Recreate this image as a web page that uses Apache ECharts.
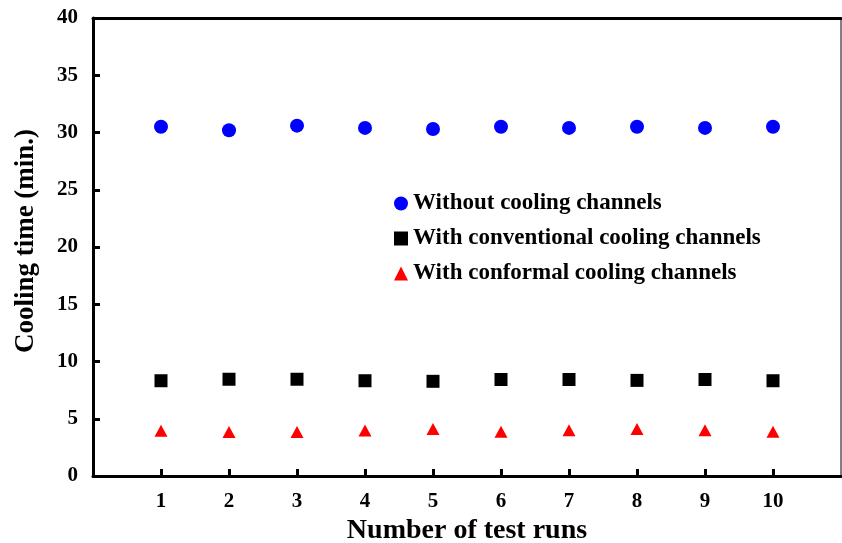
<!DOCTYPE html>
<html><head><meta charset="utf-8">
<script src="https://cdn.jsdelivr.net/npm/echarts@6/dist/echarts.min.js"></script>
<style>html,body{margin:0;padding:0;background:#fff}#c{width:842px;height:543px}</style>
</head><body><div id="c"></div>
<script>
const runs = [1,2,3,4,5,6,7,8,9,10];
const withoutCooling = [30.5,30.2,30.6,30.4,30.3,30.5,30.4,30.5,30.4,30.5];
const conventional = [8.32,8.45,8.45,8.32,8.27,8.43,8.43,8.35,8.43,8.32];
const conformal = [3.95,3.85,3.85,3.97,4.1,3.87,3.99,4.1,3.99,3.87];
const seriesNames = ['Without cooling channels','With conventional cooling channels','With conformal cooling channels'];
const yTicks = [0,5,10,15,20,25,30,35,40];

const F = 'Liberation Serif';
const pair = arr => runs.map((r,i)=>[r,arr[i]]);
const chart = echarts.init(document.getElementById('c'));
chart.setOption({
  animation:false,
  grid:{left:93,right:1,top:18,bottom:67,show:true,borderColor:'#000',borderWidth:1,outerBoundsMode:'none',containLabel:false},
  legend:{orient:'vertical',left:389,top:187,itemGap:12,itemWidth:14,itemHeight:14,
    textStyle:{fontFamily:F,fontWeight:'bold',fontSize:23,color:'#000'},
    data:[{name:seriesNames[0],icon:'circle'},{name:seriesNames[1],icon:'rect'},{name:seriesNames[2],icon:'triangle'}]},
  xAxis:[{type:'value',min:0,max:11,interval:1,
    name:'Number of test runs',nameLocation:'middle',nameGap:41,
    nameTextStyle:{fontFamily:F,fontWeight:'bold',fontSize:28,color:'#000'},
    axisLine:{lineStyle:{color:'#000',width:3}},
    axisTick:{inside:true,length:7,lineStyle:{width:3,color:'#000'},customValues:runs},
    axisLabel:{fontFamily:F,fontWeight:'bold',fontSize:21,color:'#000',margin:15,customValues:runs},
    splitLine:{show:false}},
   {type:'value',position:'top',min:0,max:11,axisLine:{lineStyle:{color:'#000',width:3}},axisTick:{show:false},axisLabel:{show:false},splitLine:{show:false}}],
  yAxis:{type:'value',min:0,max:40,interval:5,
    name:'Cooling time (min.)',nameLocation:'middle',nameGap:53,
    nameTextStyle:{fontFamily:F,fontWeight:'bold',fontSize:27,color:'#000',padding:[0,0,0,12]},
    axisLine:{show:true,lineStyle:{color:'#000',width:3}},
    axisTick:{show:true,inside:true,length:7,lineStyle:{width:3,color:'#000'}},
    axisLabel:{fontFamily:F,fontWeight:'bold',fontSize:21,color:'#000',margin:15,customValues:yTicks},
    splitLine:{show:false}},
  series:[
    {name:seriesNames[0],type:'scatter',symbol:'circle',symbolSize:14,itemStyle:{color:'#0000ff',opacity:1},data:pair(withoutCooling)},
    {name:seriesNames[1],type:'scatter',symbol:'rect',symbolSize:13,itemStyle:{color:'#000',opacity:1},data:pair(conventional)},
    {name:seriesNames[2],type:'scatter',symbol:'triangle',symbolSize:[13,12],itemStyle:{color:'#ff0000',opacity:1},data:pair(conformal)}
  ]
});
</script></body></html>
